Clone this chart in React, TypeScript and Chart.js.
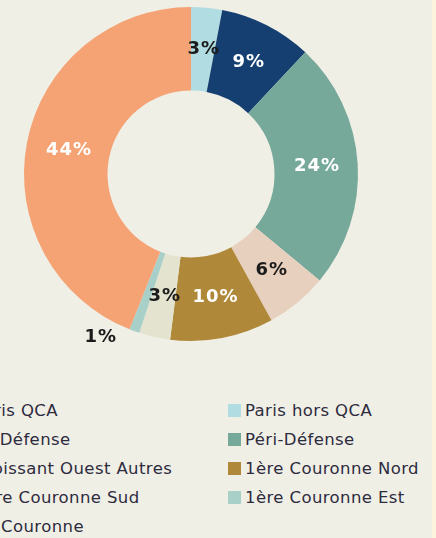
import React, { useEffect, useRef } from "react";
import { Chart, registerables } from "chart.js";

Chart.register(...registerables);

const categories = [
  "Paris QCA",
  "Paris hors QCA",
  "La Défense",
  "Péri-Défense",
  "Croissant Ouest Autres",
  "1ère Couronne Nord",
  "1ère Couronne Sud",
  "1ère Couronne Est",
  "2e Couronne",
];
const shares = [0, 3, 9, 24, 6, 10, 3, 1, 44];
const segmentColors = [
  "#d9825b",
  "#b1dde2",
  "#153f70",
  "#77a99a",
  "#e8d0bf",
  "#b08839",
  "#e4e3cf",
  "#a8cfc8",
  "#f5a274",
];
const labelTextColors = [
  "#1b1b1b",
  "#1b1b1b",
  "#ffffff",
  "#ffffff",
  "#1b1b1b",
  "#ffffff",
  "#1b1b1b",
  "#1b1b1b",
  "#ffffff",
];
const outsideLabels = [false, false, false, false, false, false, false, true, false];

const BG = "#f0efe6";

const percentLabels = {
  id: "percentLabels",
  afterDatasetsDraw(chart: any) {
    const ctx = chart.ctx;
    const meta = chart.getDatasetMeta(0);
    ctx.save();
    ctx.font = "bold 18px 'DejaVu Sans'";
    try {
      (ctx as any).letterSpacing = "1px";
    } catch (e) {}
    ctx.textAlign = "center";
    ctx.textBaseline = "middle";
    meta.data.forEach((arc: any, i: number) => {
      const v = shares[i];
      if (!v) return;
      let x: number, y: number;
      if (outsideLabels[i]) {
        const p = arc.getProps(["x", "y", "startAngle", "endAngle", "outerRadius"], true);
        const a = (p.startAngle + p.endAngle) / 2;
        const r = p.outerRadius + 14;
        x = p.x + r * Math.cos(a) - 30;
        y = p.y + r * Math.sin(a) - 7;
      } else {
        const pos = arc.tooltipPosition(true);
        x = pos.x;
        y = pos.y;
      }
      ctx.fillStyle = labelTextColors[i];
      ctx.fillText(v + "%", x + 1, y);
    });
    ctx.restore();
  },
};

function Legend() {
  return (
    <>
      {categories.map((c, i) => {
        const col = i % 2;
        const row = Math.floor(i / 2);
        return (
          <div
            key={c}
            style={{
              position: "absolute",
              left: col * 271 - 43,
              top: 410 + row * 29 - 10,
              height: 20,
              display: "flex",
              alignItems: "center",
              whiteSpace: "nowrap",
              fontFamily: "'DejaVu Sans', sans-serif",
              fontSize: 16.5,
              letterSpacing: "0.4px",
              color: "#2d2b3e",
            }}
          >
            <span
              style={{
                display: "inline-block",
                width: 13,
                height: 13,
                background: segmentColors[i],
                marginRight: 4,
              }}
            />
            <span>{c}</span>
          </div>
        );
      })}
    </>
  );
}

export default function App() {
  const ref = useRef<HTMLCanvasElement>(null);
  useEffect(() => {
    if (!ref.current) return;
    const chart = new Chart(ref.current, {
      type: "doughnut",
      data: {
        labels: categories,
        datasets: [
          {
            data: shares,
            backgroundColor: segmentColors,
            borderWidth: 0,
          },
        ],
      },
      options: {
        responsive: false,
        animation: false,
        devicePixelRatio: 1,
        cutout: "50%",
        layout: { padding: { left: 24, right: 78, top: 7, bottom: 39 } },
        plugins: {
          legend: { display: false },
          tooltip: { enabled: false },
        },
      },
      plugins: [percentLabels],
    });
    return () => chart.destroy();
  }, []);

  return (
    <div
      style={{
        position: "absolute",
        left: 0,
        top: 0,
        width: 436,
        height: 538,
        overflow: "hidden",
        background: BG,
      }}
    >
      <canvas
        ref={ref}
        width={436}
        height={380}
        style={{ position: "absolute", left: 0, top: 0, width: 436, height: 380 }}
      />
      <Legend />
      <div
        style={{
          position: "absolute",
          left: 432,
          top: 0,
          width: 4,
          height: 538,
          background: "#fcf4dc",
        }}
      />
    </div>
  );
}
